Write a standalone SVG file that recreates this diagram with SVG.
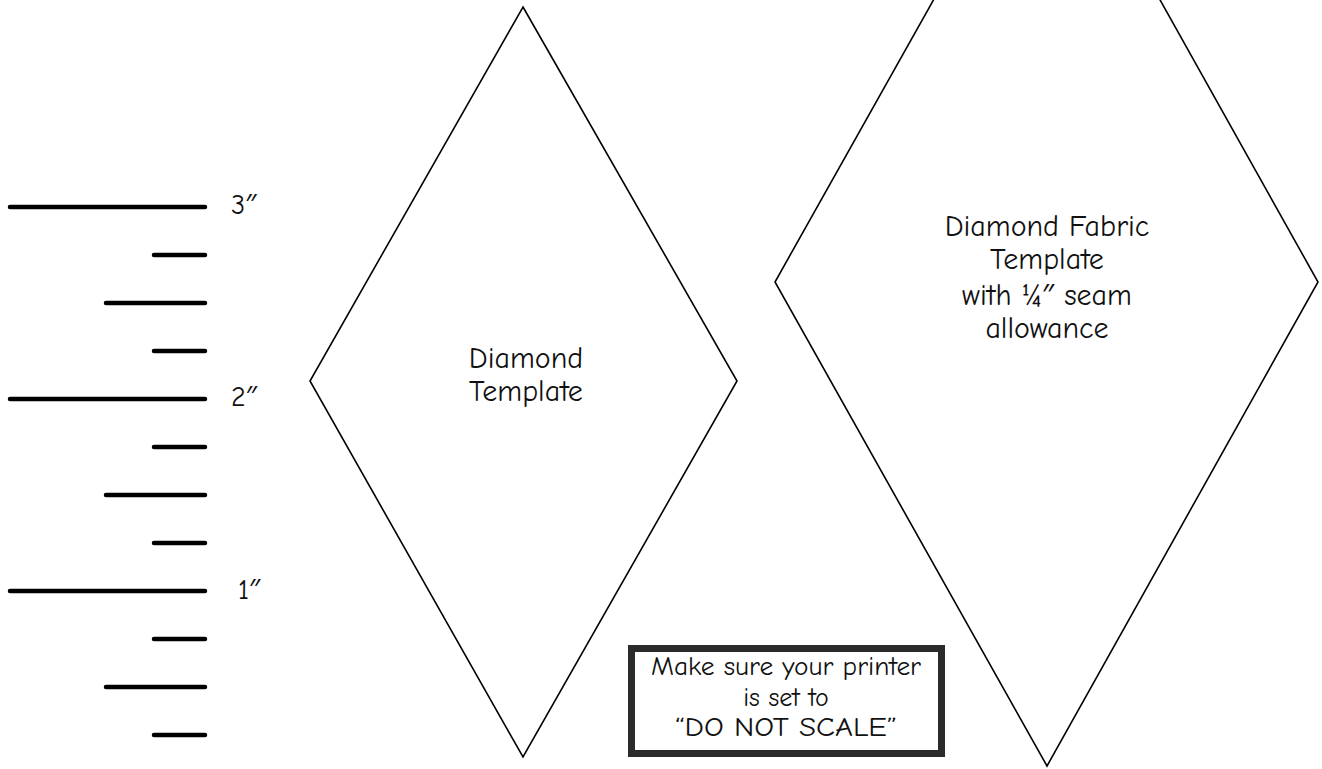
<svg xmlns="http://www.w3.org/2000/svg" width="1322" height="769" viewBox="0 0 1322 769">
<style>
.tick{stroke:#000;stroke-width:4.5;stroke-linecap:round;fill:none}
.dia{fill:#fff;stroke:#000;stroke-width:1.6;stroke-linejoin:miter}
text{font-family:"Comic Sans MS","Comic Neue","Open Sans","DejaVu Sans",sans-serif;fill:#111;text-anchor:middle}
.lbl{font-size:30px}
.ru{font-size:28px;text-anchor:start}
.note{font-size:26px}
</style>
<rect width="1322" height="769" fill="#fff"/>
<g id="ruler">
<line class="tick" x1="10" y1="207" x2="205" y2="207"/>
<line class="tick" x1="154" y1="255" x2="205" y2="255"/>
<line class="tick" x1="106" y1="303" x2="205" y2="303"/>
<line class="tick" x1="154" y1="351" x2="205" y2="351"/>
<line class="tick" x1="10" y1="399" x2="205" y2="399"/>
<line class="tick" x1="154" y1="447" x2="205" y2="447"/>
<line class="tick" x1="106" y1="495" x2="205" y2="495"/>
<line class="tick" x1="154" y1="543" x2="205" y2="543"/>
<line class="tick" x1="10" y1="591" x2="205" y2="591"/>
<line class="tick" x1="154" y1="639" x2="205" y2="639"/>
<line class="tick" x1="106" y1="687" x2="205" y2="687"/>
<line class="tick" x1="154" y1="735" x2="205" y2="735"/>
<text class="ru" x="231" y="214">3″</text>
<text class="ru" x="231" y="406">2″</text>
<text class="ru" x="238" y="599">1″</text>
</g>
<g id="diamond-template">
<polygon class="dia" points="523,7 737,381 523,757 310,381"/>
<text class="lbl" x="526" y="368">Diamond</text>
<text class="lbl" x="526" y="401">Template</text>
</g>
<g id="diamond-fabric-template">
<polygon class="dia" points="1047,-202 1318,282 1047,766 775,282"/>
<text class="lbl" x="1047" y="236">Diamond Fabric</text>
<text class="lbl" x="1047" y="269">Template</text>
<text class="lbl" x="1047" y="305">with ¼″ seam</text>
<text class="lbl" x="1047" y="338">allowance</text>
</g>
<g id="note">
<rect x="631.5" y="648.5" width="310" height="105" fill="#fff" stroke="#2b2b2b" stroke-width="7"/>
<text class="note" x="786" y="675" textLength="270" lengthAdjust="spacingAndGlyphs">Make sure your printer</text>
<text class="note" x="786" y="706">is set to</text>
<text class="note" x="786" y="736" textLength="222" lengthAdjust="spacingAndGlyphs">“DO NOT SCALE”</text>
</g>
<g id="connectors"/>
</svg>
